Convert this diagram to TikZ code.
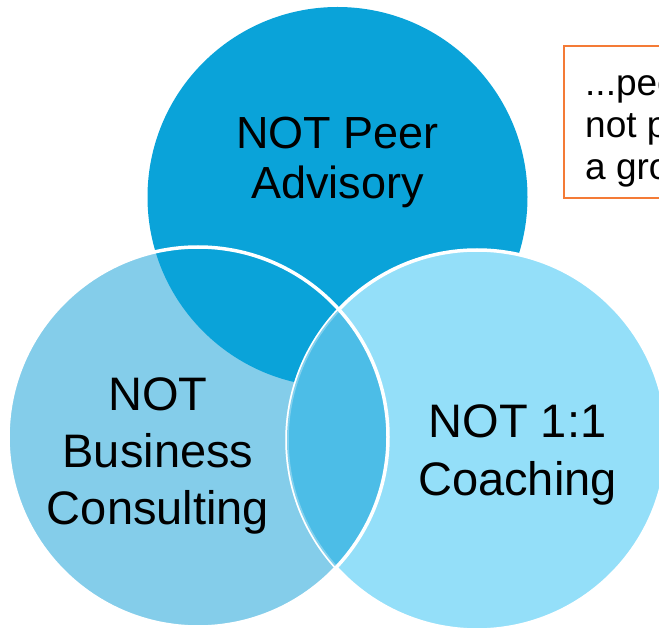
\documentclass[tikz,border=0pt]{standalone}
\usepackage{fontspec}
\setmainfont{Liberation Sans}
\definecolor{peerblue}{HTML}{0AA3D9}
\definecolor{consultblue}{HTML}{84CDEA}
\definecolor{coachblue}{HTML}{94DFF9}
\definecolor{lensblue}{HTML}{4CBDE7}
\definecolor{noteorange}{HTML}{F47B36}
\tikzset{
	vennlabel/.style={align=center, inner sep=0pt, font=\fontsize{47}{57}\selectfont},
	ring/.style={draw=white, line width=3.5pt},
	notebox/.style={draw=noteorange, line width=1.5pt},
	notetext/.style={align=left, inner sep=0pt, anchor=west, font=\fontsize{37}{42}\selectfont},
}

\begin{document}
\begin{tikzpicture}[x=1pt,y=-1pt]
	\useasboundingbox (0,0) rectangle (659,628);
	\clip (0,0) rectangle (659,628);
	\coordinate (peerc) at (337.5,197);
	\coordinate (consultc) at (198,437);
	\coordinate (coachc) at (477,440);
	% the three circles
	\fill[consultblue] (consultc) circle (190);
	\fill[peerblue] (peerc) circle (190);
	\fill[coachblue] (coachc) circle (190);
	\draw[ring] (coachc) circle (190);
	\begin{scope}
		\clip (consultc) circle (190);
		\fill[lensblue] (coachc) circle (190);
		\draw[ring, draw opacity=0.3] (coachc) circle (190);
	\end{scope}
	\draw[ring] (consultc) circle (190);
	% labels
	\node[vennlabel, font=\fontsize{45}{50}\selectfont] (peer) at (337.5,162) {NOT Peer\\Advisory};
	\node[vennlabel] (consult) at (158,456) {NOT\\Business\\Consulting};
	\node[vennlabel, font=\fontsize{47}{58}\selectfont] (coach) at (517.5,455) {NOT 1:1\\Coaching};
	% cut-off note
	\draw[notebox] (564,46) rectangle (720,198);
	\node[notetext] (note) at (585,131) {...pee\\not p\\a gro};
\end{tikzpicture}
\end{document}
